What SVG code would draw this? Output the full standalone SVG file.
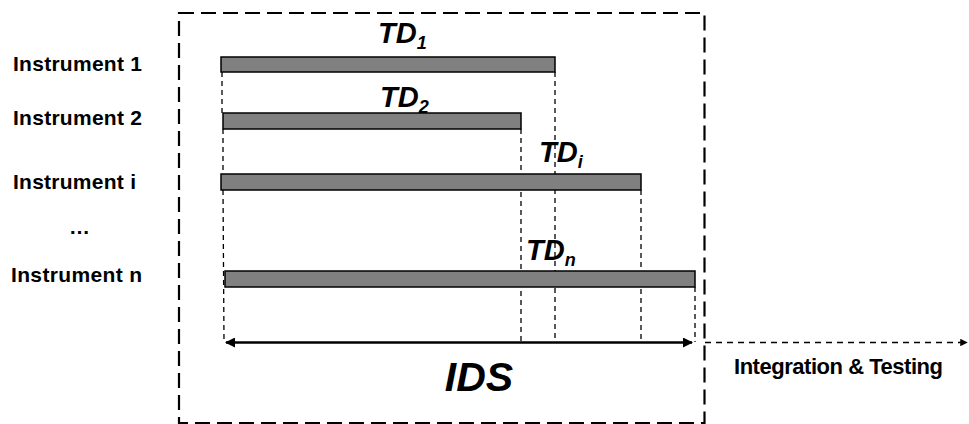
<svg xmlns="http://www.w3.org/2000/svg" width="969" height="424" viewBox="0 0 969 424">
  <style>
    .lbl { font-family: "Liberation Sans", Arial, sans-serif; font-weight: bold; font-size: 21px; fill: #000; }
    .td { font-family: "Liberation Sans", Arial, sans-serif; font-weight: bold; font-style: italic; font-size: 29px; fill: #000; }
    .sub { font-size: 18px; }
    .big { font-size: 41px; }
    .wide { font-size: 22px; }
    .bar { fill: #808080; stroke: #000; stroke-width: 1.5; }
    .guide { stroke: #000; stroke-width: 1.3; stroke-dasharray: 5 4; fill: none; }
    .frame { stroke: #000; stroke-width: 2.2; stroke-dasharray: 15 7; fill: none; }
  </style>
  <defs>
    <marker id="head" viewBox="0 0 10 10" refX="9" refY="5" markerWidth="5" markerHeight="4" orient="auto-start-reverse" markerUnits="strokeWidth">
      <path d="M0,0 L10,5 L0,10 Z" fill="#000"/>
    </marker>
    <marker id="headSmall" viewBox="0 0 10 10" refX="9" refY="5" markerWidth="5" markerHeight="5" orient="auto" markerUnits="strokeWidth">
      <path d="M0,0 L10,5 L0,10 Z" fill="#000"/>
    </marker>
  </defs>

  <!-- IDS frame -->
  <g id="frame">
    <rect class="frame" x="179" y="13" width="525.5" height="410"/>
  </g>

  <!-- instrument labels -->
  <g id="labels">
    <text class="lbl" x="13" y="71" textLength="129">Instrument 1</text>
    <text class="lbl" x="13" y="125" textLength="129">Instrument 2</text>
    <text class="lbl" x="13" y="189" textLength="123">Instrument i</text>
    <text class="lbl" x="69" y="234">…</text>
    <text class="lbl" x="11" y="282" textLength="131">Instrument n</text>
  </g>

  <!-- connectors: guide lines, IDS span, hand-off to integration -->
  <g id="connectors">
    <line class="guide" x1="222" y1="72" x2="222" y2="113"/>
    <line class="guide" x1="223" y1="129" x2="223" y2="174"/>
    <line class="guide" x1="223" y1="190" x2="224" y2="342"/>
    <line class="guide" x1="555" y1="72" x2="555" y2="342"/>
    <line class="guide" x1="521" y1="129" x2="521" y2="342"/>
    <line class="guide" x1="641" y1="190" x2="641" y2="342"/>
    <line class="guide" x1="695" y1="287" x2="695" y2="342"/>
    <line x1="226" y1="342.5" x2="692" y2="342.5" stroke="#000" stroke-width="2.5" marker-start="url(#head)" marker-end="url(#head)"/>
    <line x1="705" y1="342.5" x2="967" y2="342.5" stroke="#000" stroke-width="1.5" stroke-dasharray="6 5" marker-end="url(#headSmall)"/>
  </g>

  <!-- development bars -->
  <g id="td1">
    <rect class="bar" x="221" y="57" width="334" height="15"/>
    <text class="td" x="378" y="43">TD<tspan class="sub" dy="6">1</tspan></text>
  </g>
  <g id="td2">
    <rect class="bar" x="223" y="113" width="298" height="16"/>
    <text class="td" x="380" y="107">TD<tspan class="sub" dy="6">2</tspan></text>
  </g>
  <g id="tdi">
    <rect class="bar" x="221" y="174" width="420" height="16"/>
    <text class="td" x="539" y="162">TD<tspan class="sub" dy="6">i</tspan></text>
  </g>
  <g id="tdn">
    <rect class="bar" x="225" y="271" width="470" height="16"/>
    <text class="td" x="526" y="260">TD<tspan class="sub" dy="6">n</tspan></text>
  </g>

  <g id="ids">
    <text class="td big" x="479" y="391" text-anchor="middle">IDS</text>
  </g>

  <g id="integration">
    <text class="lbl wide" x="734" y="374" textLength="209">Integration &amp; Testing</text>
  </g>
</svg>
